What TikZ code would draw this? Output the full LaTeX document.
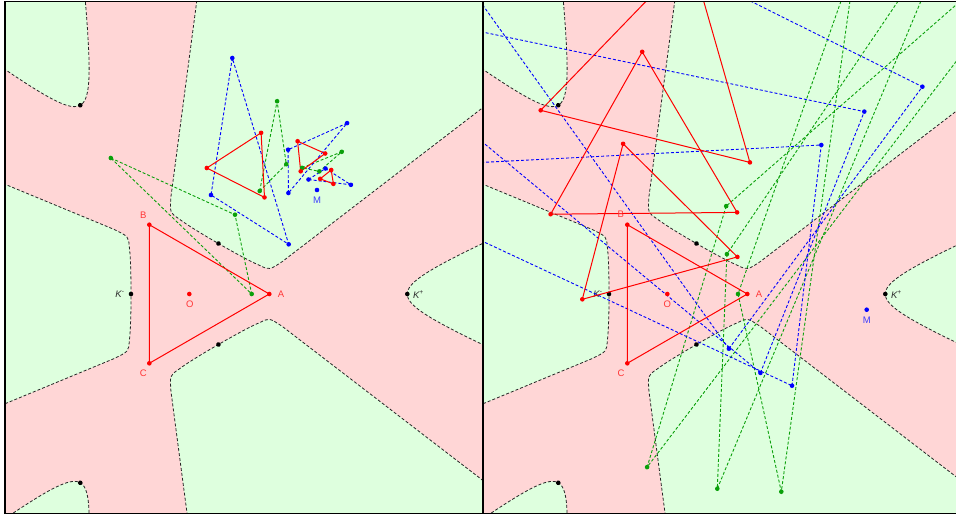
\documentclass[tikz,border=0pt]{standalone}
\usepackage{fontspec}
\setmainfont{Liberation Sans}
\definecolor{pinkbg}{RGB}{255,214,214}
\definecolor{greenbg}{RGB}{222,255,222}
\definecolor{tred}{RGB}{255,0,0}
\definecolor{tblue}{RGB}{0,0,255}
\definecolor{tgreen}{RGB}{10,160,10}
\definecolor{lred}{RGB}{255,55,55}
\definecolor{lblue}{RGB}{60,60,255}
\definecolor{kgray}{RGB}{45,45,45}
\tikzset{
  redtri/.style={tred, line width=1pt, line join=round},
  bluetri/.style={tblue, line width=0.9pt, dash pattern=on 3pt off 2pt},
  greentri/.style={tgreen, line width=0.9pt, dash pattern=on 3pt off 2pt},
  bdry/.style={black!85, line width=0.8pt, dash pattern=on 3pt off 2pt},
  lab/.style={font=\fontsize{9.5}{11}\selectfont, inner sep=0pt},
  frameline/.style={black, line width=1.3pt},
}
\begin{document}
\begin{tikzpicture}[x=1pt,y=-1pt]
\useasboundingbox (0,0) rectangle (956,517);

% ---------- backgrounds of both panels ----------
\foreach \ox in {0,478} {
  \begin{scope}
    \clip (5+\ox,1.7) rectangle (483+\ox,513.5);
    \fill[pinkbg] (5+\ox,1.7) rectangle (483+\ox,513.5);
    \begin{scope}[shift={(189.3+\ox,294)}]
      \foreach \ang in {0,120,240} {
        \fill[greenbg, rotate=\ang] plot[domain=-3:3,samples=100,variable=\q] ({168+50*cosh(\q)},{22*sinh(\q)}) -- cycle;
        \draw[bdry, rotate=\ang] plot[domain=-3:3,samples=100,variable=\q] ({168+50*cosh(\q)},{22*sinh(\q)});
        \fill[greenbg, rotate=\ang+180] (600,-281.8) -- (75,-64.5) .. controls (60.8,-57.5) .. (60,-47.3)
          .. controls (58.5,-35) and (58.3,-15) .. (58.3,0) .. controls (58.3,15) and (58.5,35) .. (60,47.3)
          .. controls (60.8,57.5) .. (75,64.5) -- (600,281.8) -- cycle;
        \draw[bdry, rotate=\ang+180] (600,-281.8) -- (75,-64.5) .. controls (60.8,-57.5) .. (60,-47.3)
          .. controls (58.5,-35) and (58.3,-15) .. (58.3,0) .. controls (58.3,15) and (58.5,35) .. (60,47.3)
          .. controls (60.8,57.5) .. (75,64.5) -- (600,281.8);
        \fill[black, rotate=\ang] (218,0) circle (2.3);
        \fill[black, rotate=\ang+180] (58.3,0) circle (2.3);
      }
    \end{scope}
    \node[lab, kgray] at (120+\ox,294.5) {\itshape K\textsuperscript{\upshape -}};
    \node[lab, kgray] at (418.5+\ox,294.5) {\itshape K\textsuperscript{\upshape +}};
  \end{scope}
}

% ---------- left panel ----------
\coordinate (LO) at (189.3,294); \coordinate (LA) at (269.3,294);
\coordinate (LB) at (149.3,224.7); \coordinate (LC) at (149.3,363.3);
\coordinate (LM) at (317,190);
\coordinate (LG1a) at (110.8,158); \coordinate (LG1b) at (235,214.7); \coordinate (LG1c) at (251.7,294);
\coordinate (LB1a) at (232.3,58); \coordinate (LB1b) at (211,195); \coordinate (LB1c) at (288.7,244.3);
\coordinate (LR2a) at (264.5,197.4); \coordinate (LR2b) at (261.1,132.8); \coordinate (LR2c) at (206.8,168);
\coordinate (LG2a) at (259.7,191); \coordinate (LG2b) at (277.1,101.2); \coordinate (LG2c) at (286.3,164.2);
\coordinate (LB2a) at (288.4,193); \coordinate (LB2b) at (288.1,149.7); \coordinate (LB2c) at (347.1,123.1);
\coordinate (LR3a) at (300.7,171.3); \coordinate (LR3b) at (325.2,153.5); \coordinate (LR3c) at (297.6,141.2);
\coordinate (LG3a) at (302.1,167.8); \coordinate (LG3b) at (341.7,151.8); \coordinate (LG3c) at (319.3,171.4);
\coordinate (LB3a) at (308.5,179.5); \coordinate (LB3b) at (325.5,168.5); \coordinate (LB3c) at (350.9,184.8);
\coordinate (LR4a) at (320.2,178.8); \coordinate (LR4b) at (333.4,183.9); \coordinate (LR4c) at (331.2,170);

\begin{scope}
  \clip (5,1.7) rectangle (483,513.5);
  \foreach \t in {G1,G2,G3} \draw[greentri] (L\t a) -- (L\t b) -- (L\t c) -- cycle;
  \foreach \t in {B1,B2,B3} \draw[bluetri] (L\t a) -- (L\t b) -- (L\t c) -- cycle;
  \draw[redtri] (LA) -- (LB) -- (LC) -- cycle;
  \foreach \t in {R2,R3,R4} \draw[redtri] (L\t a) -- (L\t b) -- (L\t c) -- cycle;
  \foreach \t in {G1,G2,G3} \foreach \v in {a,b,c} \fill[tgreen] (L\t\v) circle (2.3);
  \foreach \t in {B1,B2,B3} \foreach \v in {a,b,c} \fill[tblue] (L\t\v) circle (2.3);
  \foreach \t in {R2,R3,R4} \foreach \v in {a,b,c} \fill[tred] (L\t\v) circle (2.3);
  \foreach \p in {LA,LB,LC,LO} \fill[tred] (\p) circle (2.3);
  \fill[tblue] (LM) circle (2.3);
  \node[lab, lred] at (281,294.7) {A};
  \node[lab, lred] at (143.3,215) {B};
  \node[lab, lred] at (143.3,373.3) {C};
  \node[lab, lred] at (189.7,303.8) {O};
  \node[lab, lblue] at (317,200) {M};
\end{scope}

% ---------- right panel ----------
\coordinate (RO) at (667.3,294); \coordinate (RA) at (747.3,294);
\coordinate (RB) at (627.3,224.7); \coordinate (RC) at (627.3,363.3);
\coordinate (RM) at (866.7,309.7);
\coordinate (RG0a) at (738,294); \coordinate (RG0b) at (781.3,491.7); \coordinate (RG0c) at (855.8,-41);
\coordinate (RB0a) at (792,385.7); \coordinate (RB0b) at (821.3,145); \coordinate (RB0c) at (330.2,170.2);
\coordinate (RR1a) at (737.4,256.9); \coordinate (RR1b) at (623.1,143.8); \coordinate (RR1c) at (582.3,299.3);
\coordinate (RG1a) at (726.9,254.1); \coordinate (RG1b) at (717.3,488.7); \coordinate (RG1c) at (957.7,-87);
\coordinate (RB1a) at (760.4,372.9); \coordinate (RB1b) at (864.3,111.6); \coordinate (RB1c) at (305.7,-4.8);
\coordinate (RR2a) at (737.1,212.4); \coordinate (RR2b) at (642.2,51.8); \coordinate (RR2c) at (550.6,214.2);
\coordinate (RG2a) at (726.2,206.1); \coordinate (RG2b) at (647.1,467.1); \coordinate (RG2c) at (1085.7,-108.6);
\coordinate (RB2a) at (728.9,348.7); \coordinate (RB2b) at (922.4,86.7); \coordinate (RB2c) at (329.8,-208.4);
\coordinate (RR3a) at (749.9,162.4); \coordinate (RR3b) at (690.5,-44.8); \coordinate (RR3c) at (540.7,110.3);

\begin{scope}
  \clip (483,1.7) rectangle (961,513.5);
  \foreach \t in {G0,G1,G2} \draw[greentri] (R\t a) -- (R\t b) -- (R\t c) -- cycle;
  \foreach \t in {B0,B1,B2} \draw[bluetri] (R\t a) -- (R\t b) -- (R\t c) -- cycle;
  \draw[redtri] (RA) -- (RB) -- (RC) -- cycle;
  \foreach \t in {R1,R2,R3} \draw[redtri] (R\t a) -- (R\t b) -- (R\t c) -- cycle;
  \foreach \t in {G0,G1,G2} \foreach \v in {a,b,c} \fill[tgreen] (R\t\v) circle (2.3);
  \foreach \t in {B0,B1,B2} \foreach \v in {a,b,c} \fill[tblue] (R\t\v) circle (2.3);
  \foreach \t in {R1,R2,R3} \foreach \v in {a,b,c} \fill[tred] (R\t\v) circle (2.3);
  \foreach \p in {RA,RB,RC,RO} \fill[tred] (\p) circle (2.3);
  \fill[tblue] (RM) circle (2.3);
  \node[lab, lred] at (759,294.7) {A};
  \node[lab, lred] at (620.7,214.5) {B};
  \node[lab, lred] at (621,373.3) {C};
  \node[lab, lred] at (667.3,303.8) {O};
  \node[lab, lblue] at (866.7,319.8) {M};
\end{scope}

% ---------- frames ----------
\draw[frameline] (5,1.7) rectangle (483,513.5);
\draw[frameline] (483,1.7) rectangle (961,513.5);
\end{tikzpicture}
\end{document}
